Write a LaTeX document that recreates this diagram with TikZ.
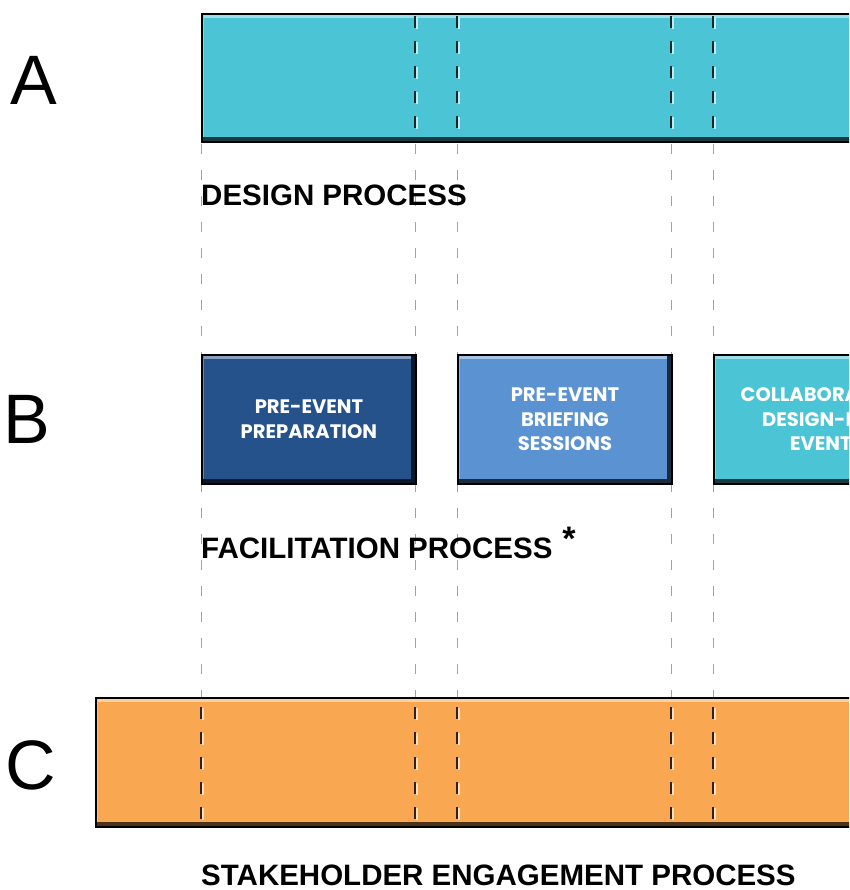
\documentclass[tikz,border=0pt]{standalone}
\usepackage{fontspec}
\setmainfont{Liberation Sans}
\newfontfamily\boxfont{Poppins}
\usetikzlibrary{positioning}

\definecolor{barteal}{HTML}{4BC5D6}
\definecolor{prepblue}{HTML}{25528A}
\definecolor{briefblue}{HTML}{5B93D2}
\definecolor{barorange}{HTML}{F9A751}
\definecolor{guidegray}{HTML}{A3A3A3}

\tikzset{
  bevelbox/.style={draw=black, line width=1.8pt, fill=#1, anchor=north west, inner sep=0pt,
    path picture={
      \fill[#1!55!white] (path picture bounding box.north west) rectangle ([yshift=-4pt]path picture bounding box.north east);
      \fill[#1!30!black] (path picture bounding box.south west) rectangle ([yshift=5pt]path picture bounding box.south east);
      \fill[#1!30!black] (path picture bounding box.north east) rectangle ([xshift=-4.5pt]path picture bounding box.south east);
      \fill[#1!70!white] (path picture bounding box.north west) rectangle ([xshift=2.5pt,yshift=5pt]path picture bounding box.south west);
    }},
  boxtext/.style={text=white, align=center, font=\boxfont\bfseries\fontsize{19.5}{24.5}\selectfont},
  guide/.style={guidegray, line width=1pt, dash pattern=on 10pt off 16pt, dash phase=23pt},
  stitch/.style={#1!20!black, line width=2.2pt, dash pattern=on 12pt off 13pt},
  stitchhi/.style={#1!35!white, line width=1.6pt, dash pattern=on 12pt off 13pt},
  proclabel/.style={anchor=base west, inner sep=0pt, font=\bfseries\fontsize{29.5}{34}\selectfont},
  rowletter/.style={anchor=base west, inner sep=0pt, font=\fontsize{70}{80}\selectfont}
}

\begin{document}
\begin{tikzpicture}[x=1pt, y=-1pt]
\clip (0,0) rectangle (849,890);
\fill[white] (0,0) rectangle (849,890);

% guide lines behind the boxes
\foreach \gx [count=\i] in {201,415,457,671,713} {
  \coordinate (top\i) at (\gx,141);
  \coordinate (bot\i) at (\gx,697);
  \draw[guide] (top\i) -- (bot\i);
}

% A
\node[rowletter] (letA) at (10,105) {A};
\node[bevelbox=barteal, minimum width=700pt, minimum height=128pt] (design) at (201,13) {};
\foreach \gx in {415,457,671,713} {
  \draw[stitchhi=barteal] (\gx+1.8,17) -- (\gx+1.8,131);
  \draw[stitch=barteal] (\gx,16) -- (\gx,130);
}
\node[proclabel] (designlbl) at (201,206) {DESIGN PROCESS};

% B
\node[rowletter] (letB) at (3.5,443) {B};
\node[bevelbox=prepblue, minimum width=214pt, minimum height=129pt, boxtext] (prep) at (201,354) {PRE-EVENT\\PREPARATION};
\node[bevelbox=briefblue, minimum width=214pt, minimum height=129pt, boxtext] (brief) at (457,354) {PRE-EVENT\\BRIEFING\\SESSIONS};
\node[bevelbox=barteal, minimum width=214pt, minimum height=129pt, boxtext] (collab) at (713,354) {COLLABORATIVE\\DESIGN-LED\\EVENT};
\node[proclabel] (facillbl) at (201,558) {FACILITATION PROCESS\hspace{10pt}\raisebox{8pt}{\fontsize{34}{34}\selectfont *}};

% C
\node[rowletter] (letC) at (5,789) {C};
\node[bevelbox=barorange, minimum width=800pt, minimum height=129pt] (stake) at (95,697) {};
\foreach \gx in {201,415,457,671,713} {
  \draw[stitchhi=barorange] (\gx+1.8,708) -- (\gx+1.8,823);
  \draw[stitch=barorange] (\gx,707) -- (\gx,822);
}
\node[proclabel] (stakelbl) at (201,885) {STAKEHOLDER ENGAGEMENT PROCESS};
\end{tikzpicture}
\end{document}
